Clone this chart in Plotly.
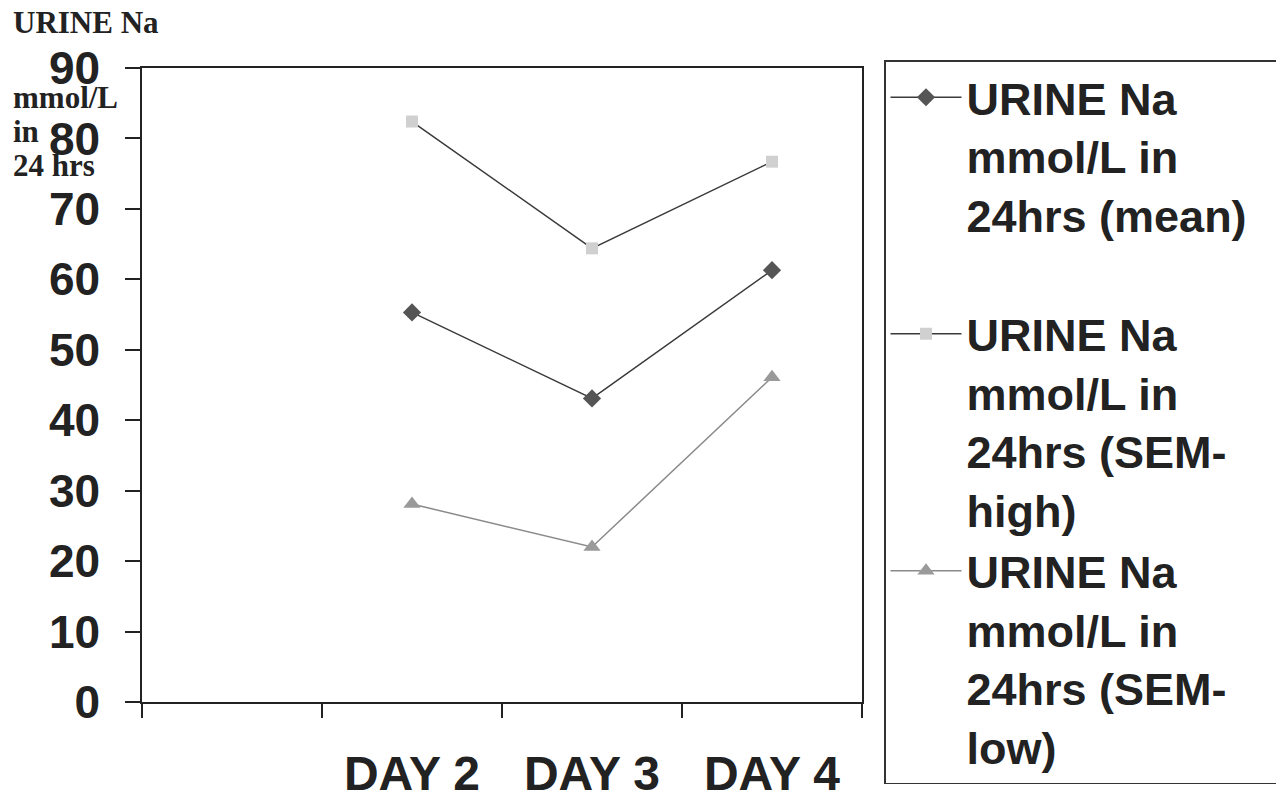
import plotly.graph_objects as go

days = ["DAY 1", "DAY 2", "DAY 3", "DAY 4"]
day_labels = ["", "DAY 2", "DAY 3", "DAY 4"]
mean_vals = [None, 55.3, 43.1, 61.3]
sem_high = [None, 82.4, 64.4, 76.7]
sem_low = [None, 28.1, 22.0, 46.1]
y_ticks = [0, 10, 20, 30, 40, 50, 60, 70, 80, 90]

names = [
    "URINE Na<br>mmol/L in<br>24hrs (mean)&nbsp;&nbsp;",
    "URINE Na<br>mmol/L in<br>24hrs (SEM-<br>high)",
    "URINE Na<br>mmol/L in<br>24hrs (SEM-<br>low)",
]

xpos = [i + 1 for i in range(len(days))]

fig = go.Figure()
fig.add_trace(go.Scatter(
    x=xpos, y=mean_vals, mode="lines+markers", name=names[0],
    legendgroup="a",
    line=dict(color="#3a3a3a", width=1.5),
    marker=dict(symbol="diamond", size=14, color="#555555"),
))
fig.add_trace(go.Scatter(
    x=xpos, y=sem_high, mode="lines+markers", name=names[1],
    legendgroup="b",
    line=dict(color="#3a3a3a", width=1.5),
    marker=dict(symbol="square", size=12, color="#d0d0d0"),
))
fig.add_trace(go.Scatter(
    x=xpos, y=sem_low, mode="lines+markers", name=names[2],
    legendgroup="b",
    line=dict(color="#8a8a8a", width=1.5),
    marker=dict(symbol="triangle-up", size=15, color="#9a9a9a"),
))

SANS = "Liberation Sans, Arial, sans-serif"

# plot area on screen: x 142..862, y 68..702 (page has an 8px body margin)
PX0, PX1, PY0, PY1 = 142, 862, 68, 702
W, H = 1276, 787

fig.update_layout(
    width=W, height=H,
    margin=dict(l=PX0 - 8, r=W - (PX1 - 8), t=PY0 - 8, b=H - (PY1 - 8), autoexpand=False),
    paper_bgcolor="white", plot_bgcolor="white",
    font=dict(family=SANS, color="#222222"),
    legend=dict(
        x=(884 - PX0) / (PX1 - PX0), y=(PY1 - 60) / (PY1 - PY0),
        xanchor="left", yanchor="top",
        font=dict(family=SANS, size=45, color="#222222", weight="bold"),
        bordercolor="#333333", borderwidth=1.5,
        tracegroupgap=58, valign="top", itemwidth=71,
        traceorder="grouped", maxheight=760,
    ),
    xaxis=dict(
        range=[0.5, 4.5], automargin=False,
        tickvals=xpos, ticktext=[f"<b>{t}</b>" for t in day_labels],
        ticks="", showgrid=False, zeroline=False,
        showline=True, linecolor="#222222", linewidth=1.5, mirror=True,
        tickfont=dict(family=SANS, size=48, color="#222222"),
        ticklabelstandoff=29,
        minor=dict(tickvals=[0.5, 1.5, 2.5, 3.5, 4.5], ticks="outside", ticklen=14,
                   tickcolor="#222222", tickwidth=1.5, showgrid=False),
    ),
    yaxis=dict(
        range=[0, 90], tickvals=y_ticks, automargin=False,
        ticktext=[f"<b>{v}</b>" for v in y_ticks],
        ticks="outside", ticklen=15, tickcolor="#222222", tickwidth=1.5,
        showgrid=False, zeroline=False,
        showline=True, linecolor="#222222", linewidth=1.5, mirror=True,
        tickfont=dict(family=SANS, size=46, color="#222222"),
        ticklabelstandoff=16,
    ),
)

serif = dict(family="Liberation Serif, Times New Roman, serif", size=31, color="#222222")
for text, px, py in [("<b>URINE Na</b>", 11, 22), ("<b>mmol/L</b>", 11, 97),
                     ("<b>in</b>", 11, 131), ("<b>24 hrs</b>", 11, 165)]:
    fig.add_annotation(
        text=text, xref="paper", yref="paper",
        x=(px - PX0) / (PX1 - PX0), y=(PY1 - py) / (PY1 - PY0),
        xanchor="left", yanchor="middle", showarrow=False, font=serif,
    )

fig.write_html("out.html")
